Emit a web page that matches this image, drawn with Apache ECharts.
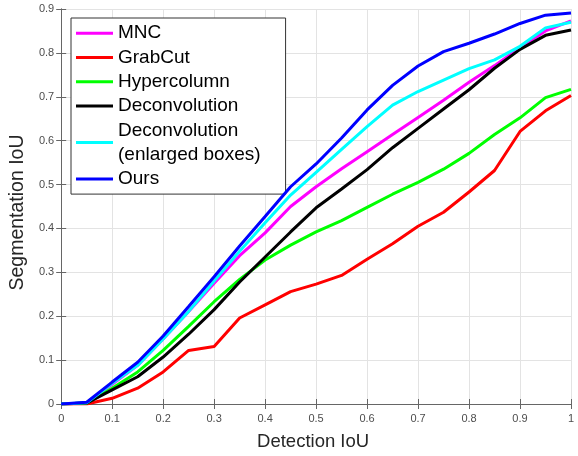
<!DOCTYPE html>
<html>
<head>
<meta charset="utf-8">
<script src="https://cdn.jsdelivr.net/npm/echarts@6/dist/echarts.min.js"></script>
<style>
html,body{margin:0;padding:0;background:#fff;}
#chart{width:578px;height:456px;}
</style>
</head>
<body>
<div id="chart"></div>
<script>
const detectionIoU = [0, 0.05, 0.1, 0.15, 0.2, 0.25, 0.3, 0.35, 0.4, 0.45, 0.5, 0.55, 0.6, 0.65, 0.7, 0.75, 0.8, 0.85, 0.9, 0.95, 1.0];
const seriesNames = ['MNC', 'GrabCut', 'Hypercolumn', 'Deconvolution', 'Deconvolution (enlarged boxes)', 'Ours'];
const mnc = [0, 0.002, 0.045, 0.088, 0.148, 0.211, 0.275, 0.338, 0.39, 0.45, 0.495, 0.536, 0.575, 0.614, 0.653, 0.692, 0.733, 0.771, 0.812, 0.85, 0.873];
const grabCut = [0, 0, 0.013, 0.036, 0.073, 0.122, 0.131, 0.196, 0.226, 0.256, 0.273, 0.293, 0.33, 0.365, 0.405, 0.437, 0.483, 0.532, 0.621, 0.668, 0.703];
const hypercolumn = [0, 0.002, 0.036, 0.073, 0.122, 0.177, 0.233, 0.284, 0.328, 0.362, 0.392, 0.418, 0.448, 0.478, 0.505, 0.535, 0.571, 0.614, 0.652, 0.698, 0.717];
const deconvolution = [0, 0.002, 0.032, 0.062, 0.107, 0.159, 0.215, 0.278, 0.335, 0.392, 0.447, 0.49, 0.534, 0.584, 0.628, 0.672, 0.716, 0.765, 0.808, 0.84, 0.852];
const deconvEnlarged = [0, 0.003, 0.047, 0.088, 0.148, 0.211, 0.28, 0.348, 0.413, 0.476, 0.528, 0.58, 0.632, 0.681, 0.712, 0.738, 0.764, 0.784, 0.815, 0.857, 0.87];
const ours = [0, 0.004, 0.05, 0.095, 0.155, 0.222, 0.29, 0.36, 0.427, 0.495, 0.547, 0.606, 0.67, 0.726, 0.77, 0.803, 0.822, 0.843, 0.867, 0.886, 0.891];
const seriesValues = [mnc, grabCut, hypercolumn, deconvolution, deconvEnlarged, ours];
const seriesColors = ['#ff00ff', '#ff0000', '#00ff00', '#000000', '#00ffff', '#0000ff'];

const FONT = 'Liberation Sans, Arial, Helvetica, sans-serif';
const chart = echarts.init(document.getElementById('chart'), null, {renderer: 'canvas'});

const series = seriesNames.map((name, i) => ({
  name: name,
  type: 'line',
  data: detectionIoU.map((x, j) => [x, seriesValues[i][j]]),
  showSymbol: false,
  symbol: 'none',
  lineStyle: {width: 3, color: seriesColors[i]},
  itemStyle: {color: seriesColors[i]},
  z: 2 + i
}));

const boxAxisLine = {show: true, lineStyle: {color: '#666', width: 1}};

chart.setOption({
  animation: false,
  backgroundColor: '#fff',
  grid: {left: 59, right: 7, top: 9, bottom: 45, containLabel: false},
  legend: {
    orient: 'vertical',
    left: 71,
    top: 18,
    backgroundColor: '#fff',
    borderColor: '#333',
    borderWidth: 1,
    padding: [3, 25, 3, 5],
    itemGap: 0,
    itemWidth: 37,
    itemHeight: 3,
    icon: 'rect',
    data: seriesNames,
    formatter: function (n) { return n === 'Deconvolution (enlarged boxes)' ? 'Deconvolution\n(enlarged boxes)' : n; },
    textStyle: {fontFamily: FONT, fontSize: 19, lineHeight: 24.3, color: '#000'}
  },
  xAxis: [{
    type: 'value', min: 0, max: 1, interval: 0.1,
    name: 'Detection IoU', nameLocation: 'middle', nameGap: 28,
    nameTextStyle: {fontFamily: FONT, fontSize: 18.5, color: '#262626', padding: [0, 6, 0, 0]},
    axisLine: boxAxisLine,
    axisTick: {show: true, inside: true, length: 5, lineStyle: {color: '#666'}},
    axisLabel: {fontFamily: FONT, fontSize: 11, color: '#4d4d4d', margin: 9},
    splitLine: {show: true, lineStyle: {color: '#e3e3e3', width: 1}}
  }, {
    type: 'value', min: 0, max: 1, interval: 0.1, position: 'top',
    axisLine: boxAxisLine,
    axisTick: {show: true, inside: true, length: 5, lineStyle: {color: '#666'}},
    axisLabel: {show: false},
    splitLine: {show: false}
  }],
  yAxis: [{
    type: 'value', min: 0, max: 0.9, interval: 0.1,
    name: 'Segmentation IoU', nameLocation: 'middle', nameGap: 27, nameRotate: 90,
    nameTextStyle: {fontFamily: FONT, fontSize: 19.5, color: '#262626', padding: [0, 12, 0, 0]},
    axisLine: boxAxisLine,
    axisTick: {show: true, inside: true, length: 5, lineStyle: {color: '#666'}},
    axisLabel: {fontFamily: FONT, fontSize: 11, color: '#4d4d4d', margin: 7},
    splitLine: {show: true, lineStyle: {color: '#e3e3e3', width: 1}}
  }, {
    type: 'value', min: 0, max: 0.9, interval: 0.1, position: 'right',
    axisLine: boxAxisLine,
    axisTick: {show: true, inside: true, length: 5, lineStyle: {color: '#666'}},
    axisLabel: {show: false},
    splitLine: {show: false}
  }],
  series: series
});
</script>
</body>
</html>
